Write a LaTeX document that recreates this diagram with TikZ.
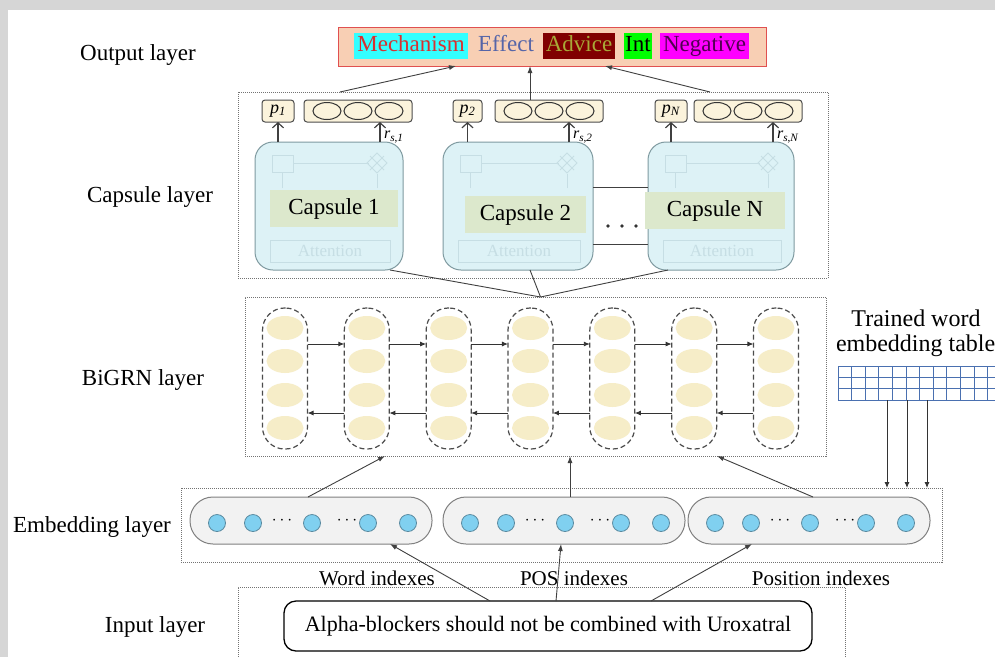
\documentclass[tikz,border=0pt]{standalone}
\usepackage{fontspec}
\setmainfont{Liberation Serif}
\usetikzlibrary{arrows.meta,shapes.geometric}
\definecolor{bgg}{HTML}{D6D6D6}
\definecolor{outfill}{HTML}{F8CFB4}
\definecolor{outred}{HTML}{E05050}
\definecolor{mechbg}{HTML}{33FFFF}
\definecolor{mechtx}{HTML}{D83030}
\definecolor{efftx}{HTML}{5565A8}
\definecolor{advbg}{HTML}{800000}
\definecolor{advtx}{HTML}{A8A838}
\definecolor{intbg}{HTML}{00FF00}
\definecolor{negbg}{HTML}{FF00FF}
\definecolor{negtx}{HTML}{500050}
\definecolor{cream}{HTML}{FBF3DC}
\definecolor{capfill}{HTML}{DDF2F6}
\definecolor{capdraw}{HTML}{7F9AA0}
\definecolor{bandg}{HTML}{DCE8CC}
\definecolor{faintc}{HTML}{C6DEE4}
\definecolor{cellfill}{HTML}{F6EDC8}
\definecolor{pillfill}{HTML}{F2F2F2}
\definecolor{beadfill}{HTML}{80D0F0}
\definecolor{beaddraw}{HTML}{5A8AA0}
\definecolor{tblc}{HTML}{4A70B0}
\begin{document}
\begin{tikzpicture}[x=1pt,y=-1pt,
  every node/.style={inner sep=0pt,outer sep=0pt},
  lay/.style={font=\fontsize{23}{25}\selectfont},
  outbox/.style={draw=outred,fill=outfill,line width=1pt,minimum width=428,minimum height=39},
  tag/.style={font=\fontsize{23}{25}\selectfont,inner xsep=3pt,inner ysep=2.5pt,text height=16pt,text depth=5pt},
  arr/.style={-{Latex[length=7pt,width=5pt]},draw=black!75,line width=0.9pt},
  plainln/.style={draw=black!75,line width=0.9pt},
  dotbox/.style={draw=black!55,densely dotted,line width=1pt},
  pbox/.style={draw=black!70,fill=cream,rounded corners=3pt,line width=1pt,minimum height=22},
  oval/.style={ellipse,draw=black!80,line width=1pt,minimum width=28,minimum height=17},
  capbody/.style={draw=capdraw,fill=capfill,rounded corners=18pt,line width=1pt,minimum height=128},
  band/.style={fill=bandg,font=\fontsize{23}{25}\selectfont},
  capar/.style={-{Straight Barb[length=5pt,width=11pt]},draw=black!75,line width=1.2pt},
  rlbl/.style={font=\fontsize{16}{17}\selectfont},
  faint/.style={draw=faintc,line width=0.8pt},
  colbox/.style={draw=black!70,dash pattern=on 5pt off 3pt,line width=1.2pt,rounded corners=22pt,minimum width=45,minimum height=141},
  cell/.style={ellipse,fill=cellfill,minimum width=37,minimum height=24},
  bigarr/.style={-{Latex[length=6pt,width=5pt]},draw=black!80,line width=0.9pt},
  pill/.style={draw=black!50,fill=pillfill,rounded corners=23pt,minimum height=47,minimum width=242,line width=1pt},
  bead/.style={circle,draw=beaddraw,fill=beadfill,minimum size=17,line width=0.8pt},
  dots/.style={font=\fontsize{16}{16}\selectfont\bfseries},
  idx/.style={font=\fontsize{21}{23}\selectfont},
  sentbox/.style={draw=black,rounded corners=12pt,line width=1.3pt,minimum width=528,minimum height=50,font=\fontsize{22}{24}\selectfont},
  tbl/.style={draw=tblc,line width=0.9pt},
  tblarr/.style={-{Latex[length=6pt,width=5pt]},draw=black!80,line width=0.9pt}
]
\useasboundingbox (0,0) rectangle (995,657);
\fill[bgg] (0,0) rectangle (995,657);
\fill[white] (8,10) rectangle (995,657);

% layer labels
\node[lay] (lout) at (138,55) {Output layer};
\node[lay] (lcap) at (150,197) {Capsule layer};
\node[lay] (lbig) at (143,380) {BiGRN layer};
\node[lay] (lemb) at (92,527) {Embedding layer};
\node[lay] (linp) at (155,627) {Input layer};

% output layer
\node[outbox] (out) at (552,46.5) {};
\node[tag,fill=mechbg,text=mechtx] (tmech) at (411,46) {Mechanism};
\node[tag,text=efftx] (teff) at (506,46) {Effect};
\node[tag,fill=advbg,text=advtx] (tadv) at (579,46) {Advice};
\node[tag,fill=intbg,inner xsep=1pt] (tint) at (638,46) {Int};
\node[tag,fill=negbg,text=negtx] (tneg) at (704.5,46) {Negative};

% capsule layer
\node[dotbox,minimum width=590,minimum height=186] (caplayer) at (533,185) {};
\foreach \k/\bl/\br/\xa/\xb/\ya/\yb/\pl/\pr/\cl/\ax in {
 1/255/403/270/398/190/227/262/294/304/380,
 2/443/593/465/586/196/233/453/482/495/569,
 N/648/794/645/785/192/229/655/687/694/773}{
 \node[capbody,minimum width=\br-\bl] (cb\k) at ({(\bl+\br)/2},206) {};
 \draw[faint] (\bl+17,155) rectangle (\bl+38,172);
 \draw[faint] (\bl+38,163) -- (\br-34,163);
 \draw[faint] (\br-26,153) -- (\br-16,163) -- (\br-26,173) -- (\br-36,163) -- cycle;
 \draw[faint] (\br-33,156) -- (\br-19,170) (\br-19,156) -- (\br-33,170);
 \draw[faint] (\bl+27,188) -- (\bl+27,173) (\br-26,188) -- (\br-26,174);
 \draw[faint] (\bl+15,240) rectangle (\br-13,262);
 \node[text=faintc,font=\fontsize{17}{18}\selectfont] (att\k) at ({(\bl+\br)/2+1},251) {Attention};
 \node[band,minimum width=\xb-\xa,minimum height=\yb-\ya] (band\k) at ({(\xa+\xb)/2},{(\ya+\yb)/2}) {Capsule \k};
 \node[pbox,minimum width=\pr-\pl,font=\fontsize{18}{18}\selectfont] (p\k) at ({(\pl+\pr)/2},111) {\textit{p}\textsubscript{\textit{\k}}};
 \node[pbox,minimum width=108] (c\k) at ({\cl+54},111) {};
 \foreach \e in {23,54,85} \node[oval] (c\k e\e) at ({\cl+\e},111) {};
 \coordinate (a\k) at (\ax,142);
 \draw[capar] (p\k.south |- cb\k.north) -- (p\k.south);
 \draw[capar] (a\k) -- (a\k |- c\k.south);
 \node[rlbl,anchor=west] (r\k) at (\ax+4,137) {\textit{r}\textsubscript{\textit{s},\textit{\k}}};
}
\coordinate (h1) at (0,187);
\coordinate (h2) at (0,244);
\draw[plainln] (cb2.east |- h1) -- (cbN.west |- h1);
\draw[plainln] (cb2.east |- h2) -- (cbN.west |- h2);
\foreach \d in {608,622,636} \fill[black!80] (\d,226) circle (1.8);

% output arrows
\draw[arr] ([xshift=102pt]caplayer.north west) -- ([xshift=-96pt]out.south);
\draw[arr] ([xshift=-19pt]c2.north) -- ([xshift=-22pt]out.south);
\draw[arr] ([xshift=-118pt]caplayer.north east) -- ([xshift=53pt]out.south);

% BiGRN layer
\node[dotbox,minimum width=581,minimum height=159] (big) at (535.5,376.5) {};
\foreach \i in {0,...,6}{
 \pgfmathsetmacro\cx{285+\i*81.83}
 \node[colbox] (col\i) at (\cx,378.5) {};
 \foreach \j/\yy in {0/328,1/361,2/395,3/428} \node[cell] (cell\i\j) at (\cx,\yy) {};
}
\coordinate (fy) at (0,344);
\coordinate (by) at (0,413);
\foreach \i [evaluate=\i as \nxt using int(\i+1)] in {0,...,5}{
 \draw[bigarr] (col\i.east |- fy) -- (col\nxt.west |- fy);
 \draw[bigarr] (col\nxt.west |- by) -- (col\i.east |- by);
}
% capsule -> BiGRN
\draw[plainln] ([xshift=-13pt]cb1.south east) -- ([xshift=5pt]big.north);
\draw[plainln] ([xshift=12pt]cb2.south) -- ([xshift=5pt]big.north);
\draw[plainln] ([xshift=20pt]cbN.south west) -- ([xshift=5pt]big.north);

% word embedding table
\node[font=\fontsize{24}{26}\selectfont] (tw1) at (916,318) {Trained word};
\node[font=\fontsize{24}{26}\selectfont,anchor=west] (tw2) at (836,346) {embedding table};
\node[minimum width=162,minimum height=34] (table) at (919,383) {};
\foreach \i in {0,...,12} \draw[tbl] ({838+\i*13.6},366) -- ({838+\i*13.6},400);
\foreach \j in {0,...,3} \draw[tbl] (838,{366+\j*11.4}) -- (1000,{366+\j*11.4});

% embedding layer
\node[dotbox,minimum width=761,minimum height=74] (emb) at (561.5,525) {};
\foreach \p/\s in {1/190,2/443,3/688}{
 \node[pill] (pill\p) at (\s+121,520.5) {};
 \foreach \b/\o in {1/27,2/63,3/122,4/178,5/218} \node[bead] (bead\p\b) at (\s+\o,523) {};
 \node[dots] (dA\p) at (\s+92,521) {$\cdots$};
 \node[dots] (dB\p) at (\s+157,521) {$\cdots$};
}
\coordinate (t1) at (887,400);
\coordinate (t2) at (907,400);
\coordinate (t3) at (927,400);
\foreach \t in {t1,t2,t3} \draw[tblarr] (\t) -- (\t |- emb.north);

% embedding -> BiGRN
\draw[arr] ([xshift=-3pt]pill1.north) -- ([xshift=-150.5pt]big.south);
\draw[arr] ([xshift=6pt]pill2.north) -- ([xshift=34.5pt]big.south);
\draw[arr] ([xshift=4pt]pill3.north) -- ([xshift=181.5pt]big.south);

% index labels
\node[idx] (iw) at (377,578) {Word indexes};
\node[idx] (ip) at (574,578) {POS indexes};
\node[idx] (ipos) at (821,578) {Position indexes};

% input layer
\node[dotbox,minimum width=607,minimum height=75] (inp) at (541.5,624.5) {};
\node[sentbox] (sent) at (548,626) {Alpha-blockers should not be combined with Uroxatral};
\draw[arr] ([xshift=-58pt]sent.north) -- ([xshift=79pt]pill1.south);
\draw[arr] ([xshift=8pt]sent.north) -- ([xshift=-3pt]pill2.south);
\draw[arr] ([xshift=103pt]sent.north) -- ([xshift=-57pt]pill3.south);
\end{tikzpicture}
\end{document}
